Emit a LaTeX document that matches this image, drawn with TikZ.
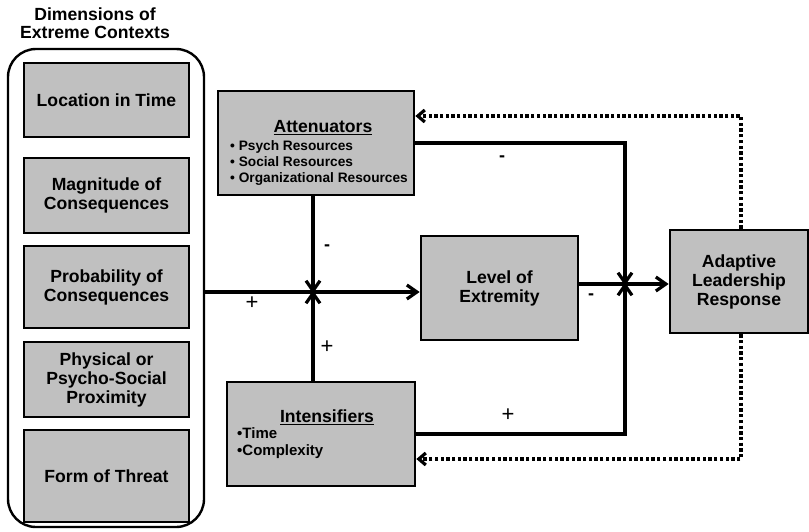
\documentclass[tikz,border=0pt]{standalone}
\usepackage{fontspec}
\setmainfont{Liberation Sans}
\usetikzlibrary{arrows.meta}
\definecolor{boxgray}{RGB}{192,192,192}
\begin{document}
\begin{tikzpicture}[x=1pt,y=-1pt,line join=miter,
  box/.style={draw,line width=2.7pt,fill=boxgray,inner sep=0pt,align=center,
    font=\fontsize{17.6}{19}\selectfont\bfseries},
  ttl/.style={align=center,font=\fontsize{17.6}{18.5}\selectfont\bfseries},
  head/.style={font=\fontsize{17.6}{19}\selectfont\bfseries},
  bul/.style={align=left,anchor=west,inner sep=0pt},
  conn/.style={line width=3.2pt},
  dotline/.style={line width=3.2pt,dash pattern=on 3.3pt off 2.4pt},
  plus/.style={font=\fontsize{22}{22}\selectfont},
  minus/.style={font=\fontsize{18}{18}\selectfont\bfseries},
  >={Straight Barb[length=10pt,width=14pt]},
  dothead/.style={-{Straight Barb[length=7pt,width=12pt]}}]
\useasboundingbox (0,0) rectangle (809,531);
\node[ttl] (title) at (95,23) {Dimensions of\\Extreme Contexts};
\node[draw,line width=2.4pt,rounded corners=28pt,minimum width=196pt,minimum height=478pt] (dims) at (106,288) {};
\node[box,minimum width=165pt,minimum height=74pt] (loc) at (106.5,100) {Location in Time};
\node[box,minimum width=165pt,minimum height=75pt] (mag) at (106.5,195.5) {Magnitude of\\Consequences};
\node[box,minimum width=165pt,minimum height=82pt] (prob) at (106.5,287) {Probability of\\Consequences};
\node[box,minimum width=165pt,minimum height=75pt] (phys) at (106.5,379.5) {Physical or\\Psycho-Social\\Proximity};
\node[box,minimum width=165pt,minimum height=92pt] (form) at (106.5,476) {Form of Threat};
\node[box,minimum width=196pt,minimum height=104pt] (att) at (316,143) {};
\node[head] (attH) at (323,128) {\underline{Attenuators}};
\node[bul,font=\fontsize{13.7}{16}\selectfont\bfseries] (attB) at (230,163) {• Psych Resources\\• Social Resources\\• Organizational Resources};
\node[box,minimum width=157pt,minimum height=104pt] (lev) at (499.5,288) {Level of\\Extremity};
\node[box,minimum width=188pt,minimum height=104pt] (int) at (321,434) {};
\node[head] (intH) at (327,417) {\underline{Intensifiers}};
\node[bul,font=\fontsize{15}{17}\selectfont\bfseries] (intB) at (237,443.5) {•Time\\•Complexity};
\node[box,minimum width=138pt,minimum height=103pt] (ada) at (739,281.5) {Adaptive\\Leadership\\Response};
\coordinate (J1) at (313,292);
\coordinate (J2) at (625,284);
\coordinate (dT) at (741,116);
\coordinate (dB) at (741,459);
\draw[conn,->] (dims.east |- J1) -- (lev.west |- J1);
\draw[conn,->] (J1 |- att.south) -- ([yshift=-1.5pt]J1);
\draw[conn,->] (J1 |- int.north) -- ([yshift=1.5pt]J1);
\draw[conn,->] (lev.east |- J2) -- (ada.west |- J2);
\draw[conn,->] (att.east) -| ([yshift=-1.5pt]J2);
\draw[conn,->] (int.east) -| ([yshift=1.5pt]J2);
\draw[dotline,dothead] (dT |- ada.north) -- (dT) -- (att.east |- dT);
\draw[dotline,dothead] (dB |- ada.south) -- (dB) -- (int.east |- dB);
\node[minus] (s1) at (502,159) {-};
\node[minus] (s2) at (327,248) {-};
\node[plus] (s3) at (252,303) {+};
\node[plus] (s4) at (327,347) {+};
\node[minus] (s5) at (591,297) {-};
\node[plus] (s6) at (508,415) {+};
\end{tikzpicture}
\end{document}
